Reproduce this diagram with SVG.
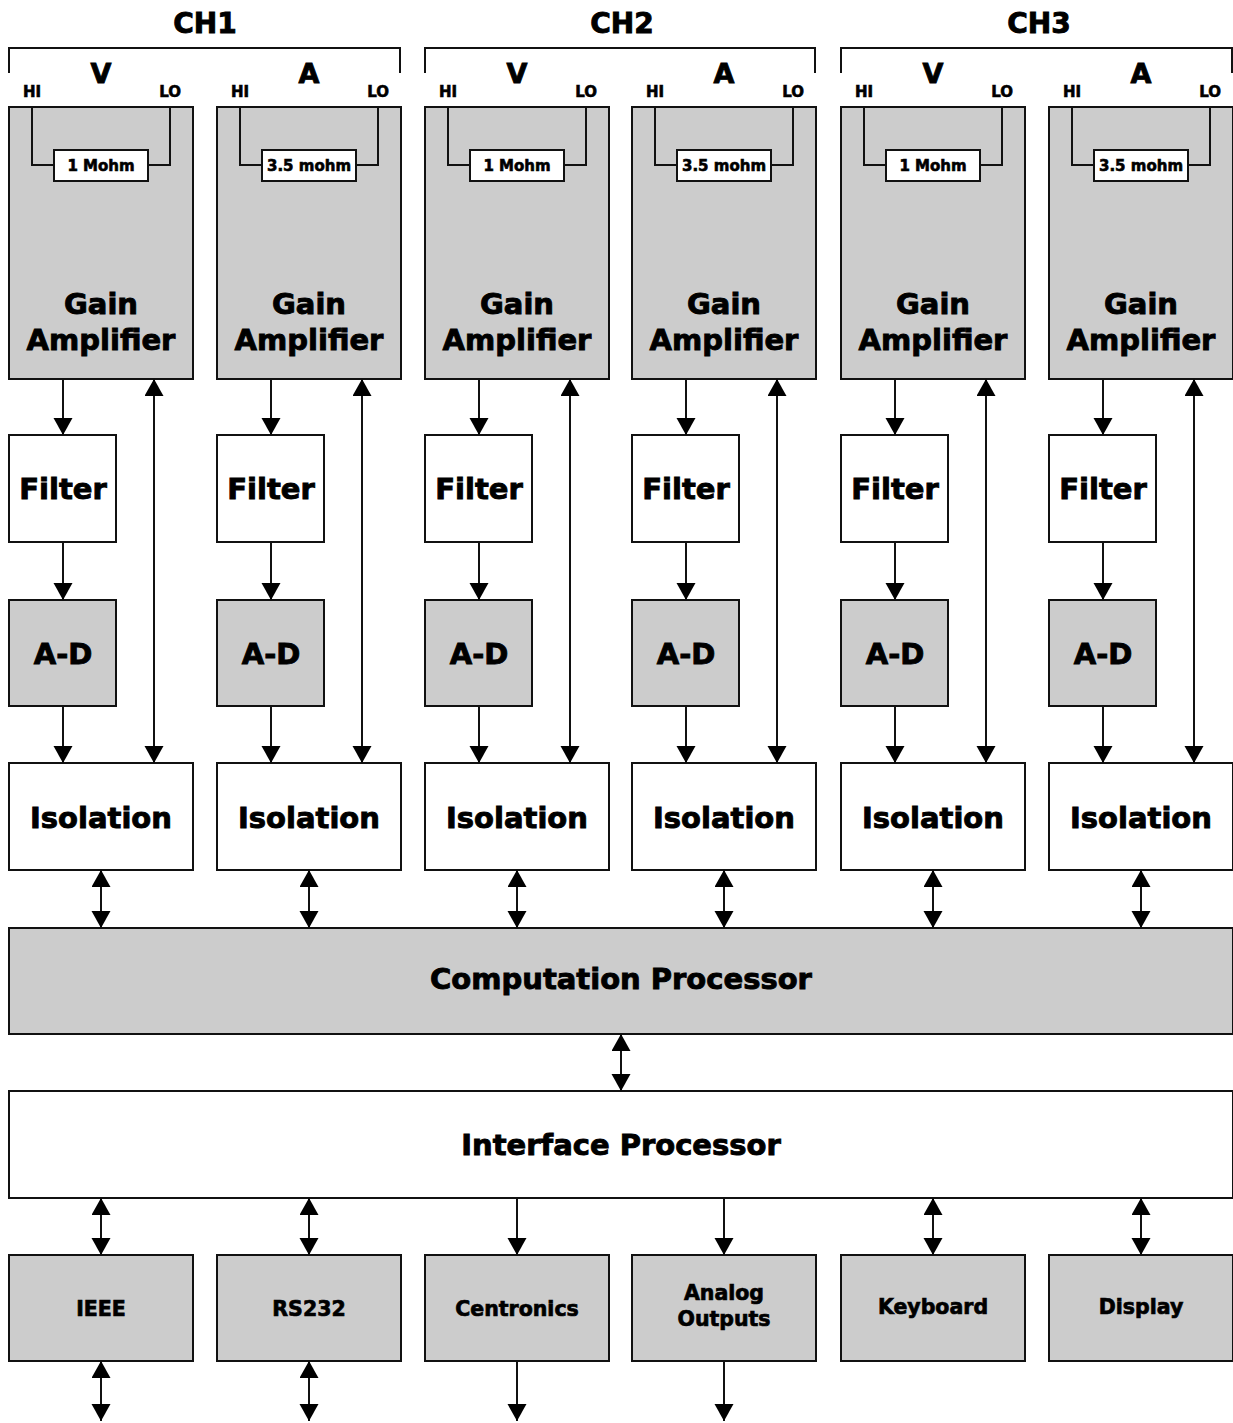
<svg xmlns="http://www.w3.org/2000/svg" width="1233" height="1423" viewBox="0 0 1233 1423">
<style>
text{font-family:"DejaVu Sans","Liberation Sans",sans-serif;font-weight:bold;fill:#000;stroke:#000;stroke-width:0.6;text-anchor:middle}
.g{fill:#cccccc;stroke:#111;stroke-width:2}
.w{fill:#fff;stroke:#111;stroke-width:2}
.wire{fill:none;stroke:#111;stroke-width:2}
.c{fill:none;stroke:#111;stroke-width:2}
.a1{marker-end:url(#ah)}
.a2{marker-start:url(#ah);marker-end:url(#ah)}
.big{font-size:29px;stroke-width:0.9}
.hdr{font-size:28px;stroke-width:0.9}
.va{font-size:27px;stroke-width:0.9}
.hl{font-size:15px;text-anchor:start}
.lo{font-size:15px;text-anchor:end}
.res{font-size:15px}
.sm{font-size:20.5px;stroke-width:0.7}
</style>
<defs>
<marker id="ah" markerUnits="userSpaceOnUse" markerWidth="18" markerHeight="20" refX="17" refY="9.5" orient="auto-start-reverse" viewBox="0 0 18 20">
<path d="M0,0 L17,9.5 L0,19 z" fill="#000"/>
</marker>
</defs>

<g id="headers">
<text class="hdr" x="205" y="33">CH1</text>
<text class="hdr" x="622" y="33">CH2</text>
<text class="hdr" x="1039" y="33">CH3</text>
<path class="wire" d="M9,73 V48 H400 V73"/>
<path class="wire" d="M425,73 V48 H815 V73"/>
<path class="wire" d="M841,73 V48 H1232 V73"/>
<text class="va" x="101" y="83">V</text>
<text class="va" x="309" y="83">A</text>
<text class="va" x="517" y="83">V</text>
<text class="va" x="724" y="83">A</text>
<text class="va" x="933" y="83">V</text>
<text class="va" x="1141" y="83">A</text>
</g>

<g id="ch1-v-gain">
<text class="hl" x="23" y="97">HI</text><text class="lo" x="181" y="97">LO</text>
<rect class="g" x="9" y="107" width="184" height="272"/>
<path class="wire" d="M32,107 V165 H54 M148,165 H170 V107"/>
<rect class="w" x="54" y="150" width="94" height="31"/>
<text class="res" x="101" y="171">1 Mohm</text>
<text class="big" x="101" y="314">Gain</text><text class="big" x="101" y="350">Amplifier</text>
</g>
<g id="ch1-a-gain">
<text class="hl" x="231" y="97">HI</text><text class="lo" x="389" y="97">LO</text>
<rect class="g" x="217" y="107" width="184" height="272"/>
<path class="wire" d="M240,107 V165 H262 M356,165 H378 V107"/>
<rect class="w" x="262" y="150" width="94" height="31"/>
<text class="res" x="309" y="171">3.5 mohm</text>
<text class="big" x="309" y="314">Gain</text><text class="big" x="309" y="350">Amplifier</text>
</g>
<g id="ch2-v-gain">
<text class="hl" x="439" y="97">HI</text><text class="lo" x="597" y="97">LO</text>
<rect class="g" x="425" y="107" width="184" height="272"/>
<path class="wire" d="M448,107 V165 H470 M564,165 H586 V107"/>
<rect class="w" x="470" y="150" width="94" height="31"/>
<text class="res" x="517" y="171">1 Mohm</text>
<text class="big" x="517" y="314">Gain</text><text class="big" x="517" y="350">Amplifier</text>
</g>
<g id="ch2-a-gain">
<text class="hl" x="646" y="97">HI</text><text class="lo" x="804" y="97">LO</text>
<rect class="g" x="632" y="107" width="184" height="272"/>
<path class="wire" d="M655,107 V165 H677 M771,165 H793 V107"/>
<rect class="w" x="677" y="150" width="94" height="31"/>
<text class="res" x="724" y="171">3.5 mohm</text>
<text class="big" x="724" y="314">Gain</text><text class="big" x="724" y="350">Amplifier</text>
</g>
<g id="ch3-v-gain">
<text class="hl" x="855" y="97">HI</text><text class="lo" x="1013" y="97">LO</text>
<rect class="g" x="841" y="107" width="184" height="272"/>
<path class="wire" d="M864,107 V165 H886 M980,165 H1002 V107"/>
<rect class="w" x="886" y="150" width="94" height="31"/>
<text class="res" x="933" y="171">1 Mohm</text>
<text class="big" x="933" y="314">Gain</text><text class="big" x="933" y="350">Amplifier</text>
</g>
<g id="ch3-a-gain">
<text class="hl" x="1063" y="97">HI</text><text class="lo" x="1221" y="97">LO</text>
<rect class="g" x="1049" y="107" width="184" height="272"/>
<path class="wire" d="M1072,107 V165 H1094 M1188,165 H1210 V107"/>
<rect class="w" x="1094" y="150" width="94" height="31"/>
<text class="res" x="1141" y="171">3.5 mohm</text>
<text class="big" x="1141" y="314">Gain</text><text class="big" x="1141" y="350">Amplifier</text>
</g>

<g id="filters">
<g id="filter1"><rect class="w" x="9" y="435" width="107" height="107"/><text class="big" x="63" y="499">Filter</text></g>
<g id="filter2"><rect class="w" x="217" y="435" width="107" height="107"/><text class="big" x="271" y="499">Filter</text></g>
<g id="filter3"><rect class="w" x="425" y="435" width="107" height="107"/><text class="big" x="479" y="499">Filter</text></g>
<g id="filter4"><rect class="w" x="632" y="435" width="107" height="107"/><text class="big" x="686" y="499">Filter</text></g>
<g id="filter5"><rect class="w" x="841" y="435" width="107" height="107"/><text class="big" x="895" y="499">Filter</text></g>
<g id="filter6"><rect class="w" x="1049" y="435" width="107" height="107"/><text class="big" x="1103" y="499">Filter</text></g>
</g>

<g id="adcs">
<g id="ad1"><rect class="g" x="9" y="600" width="107" height="106"/><text class="big" x="63" y="664">A-D</text></g>
<g id="ad2"><rect class="g" x="217" y="600" width="107" height="106"/><text class="big" x="271" y="664">A-D</text></g>
<g id="ad3"><rect class="g" x="425" y="600" width="107" height="106"/><text class="big" x="479" y="664">A-D</text></g>
<g id="ad4"><rect class="g" x="632" y="600" width="107" height="106"/><text class="big" x="686" y="664">A-D</text></g>
<g id="ad5"><rect class="g" x="841" y="600" width="107" height="106"/><text class="big" x="895" y="664">A-D</text></g>
<g id="ad6"><rect class="g" x="1049" y="600" width="107" height="106"/><text class="big" x="1103" y="664">A-D</text></g>
</g>

<g id="isolations">
<g id="iso1"><rect class="w" x="9" y="763" width="184" height="107"/><text class="big" x="101" y="828">Isolation</text></g>
<g id="iso2"><rect class="w" x="217" y="763" width="184" height="107"/><text class="big" x="309" y="828">Isolation</text></g>
<g id="iso3"><rect class="w" x="425" y="763" width="184" height="107"/><text class="big" x="517" y="828">Isolation</text></g>
<g id="iso4"><rect class="w" x="632" y="763" width="184" height="107"/><text class="big" x="724" y="828">Isolation</text></g>
<g id="iso5"><rect class="w" x="841" y="763" width="184" height="107"/><text class="big" x="933" y="828">Isolation</text></g>
<g id="iso6"><rect class="w" x="1049" y="763" width="184" height="107"/><text class="big" x="1141" y="828">Isolation</text></g>
</g>

<g id="computation-processor"><rect class="g" x="9" y="928" width="1224" height="106"/><text class="big" x="621" y="989">Computation Processor</text></g>
<g id="interface-processor"><rect class="w" x="9" y="1091" width="1224" height="107"/><text class="big" x="621" y="1155">Interface Processor</text></g>

<g id="ieee"><rect class="g" x="9" y="1255" width="184" height="106"/><text class="sm" x="101" y="1316">IEEE</text></g>
<g id="rs232"><rect class="g" x="217" y="1255" width="184" height="106"/><text class="sm" x="309" y="1316">RS232</text></g>
<g id="centronics"><rect class="g" x="425" y="1255" width="184" height="106"/><text class="sm" x="517" y="1316">Centronics</text></g>
<g id="analog-outputs"><rect class="g" x="632" y="1255" width="184" height="106"/><text class="sm" x="724" y="1300">Analog</text><text class="sm" x="724" y="1326">Outputs</text></g>
<g id="keyboard"><rect class="g" x="841" y="1255" width="184" height="106"/><text class="sm" x="933" y="1314">Keyboard</text></g>
<g id="display"><rect class="g" x="1049" y="1255" width="184" height="106"/><text class="sm" x="1141" y="1314">Display</text></g>

<g id="connectors">
<line class="c a1" x1="63" y1="380" x2="63" y2="435"/>
<line class="c a1" x1="271" y1="380" x2="271" y2="435"/>
<line class="c a1" x1="479" y1="380" x2="479" y2="435"/>
<line class="c a1" x1="686" y1="380" x2="686" y2="435"/>
<line class="c a1" x1="895" y1="380" x2="895" y2="435"/>
<line class="c a1" x1="1103" y1="380" x2="1103" y2="435"/>
<line class="c a1" x1="63" y1="543" x2="63" y2="600"/>
<line class="c a1" x1="271" y1="543" x2="271" y2="600"/>
<line class="c a1" x1="479" y1="543" x2="479" y2="600"/>
<line class="c a1" x1="686" y1="543" x2="686" y2="600"/>
<line class="c a1" x1="895" y1="543" x2="895" y2="600"/>
<line class="c a1" x1="1103" y1="543" x2="1103" y2="600"/>
<line class="c a1" x1="63" y1="707" x2="63" y2="763"/>
<line class="c a1" x1="271" y1="707" x2="271" y2="763"/>
<line class="c a1" x1="479" y1="707" x2="479" y2="763"/>
<line class="c a1" x1="686" y1="707" x2="686" y2="763"/>
<line class="c a1" x1="895" y1="707" x2="895" y2="763"/>
<line class="c a1" x1="1103" y1="707" x2="1103" y2="763"/>
<line class="c a2" x1="154" y1="379" x2="154" y2="763"/>
<line class="c a2" x1="362" y1="379" x2="362" y2="763"/>
<line class="c a2" x1="570" y1="379" x2="570" y2="763"/>
<line class="c a2" x1="777" y1="379" x2="777" y2="763"/>
<line class="c a2" x1="986" y1="379" x2="986" y2="763"/>
<line class="c a2" x1="1194" y1="379" x2="1194" y2="763"/>
<line class="c a2" x1="101" y1="870" x2="101" y2="928"/>
<line class="c a2" x1="309" y1="870" x2="309" y2="928"/>
<line class="c a2" x1="517" y1="870" x2="517" y2="928"/>
<line class="c a2" x1="724" y1="870" x2="724" y2="928"/>
<line class="c a2" x1="933" y1="870" x2="933" y2="928"/>
<line class="c a2" x1="1141" y1="870" x2="1141" y2="928"/>
<line class="c a2" x1="621" y1="1034" x2="621" y2="1091"/>
<line class="c a2" x1="101" y1="1198" x2="101" y2="1255"/>
<line class="c a2" x1="309" y1="1198" x2="309" y2="1255"/>
<line class="c a1" x1="517" y1="1198" x2="517" y2="1255"/>
<line class="c a1" x1="724" y1="1198" x2="724" y2="1255"/>
<line class="c a2" x1="933" y1="1198" x2="933" y2="1255"/>
<line class="c a2" x1="1141" y1="1198" x2="1141" y2="1255"/>
<line class="c a2" x1="101" y1="1361" x2="101" y2="1421"/>
<line class="c a2" x1="309" y1="1361" x2="309" y2="1421"/>
<line class="c a1" x1="517" y1="1361" x2="517" y2="1421"/>
<line class="c a1" x1="724" y1="1361" x2="724" y2="1421"/>
</g>
</svg>
